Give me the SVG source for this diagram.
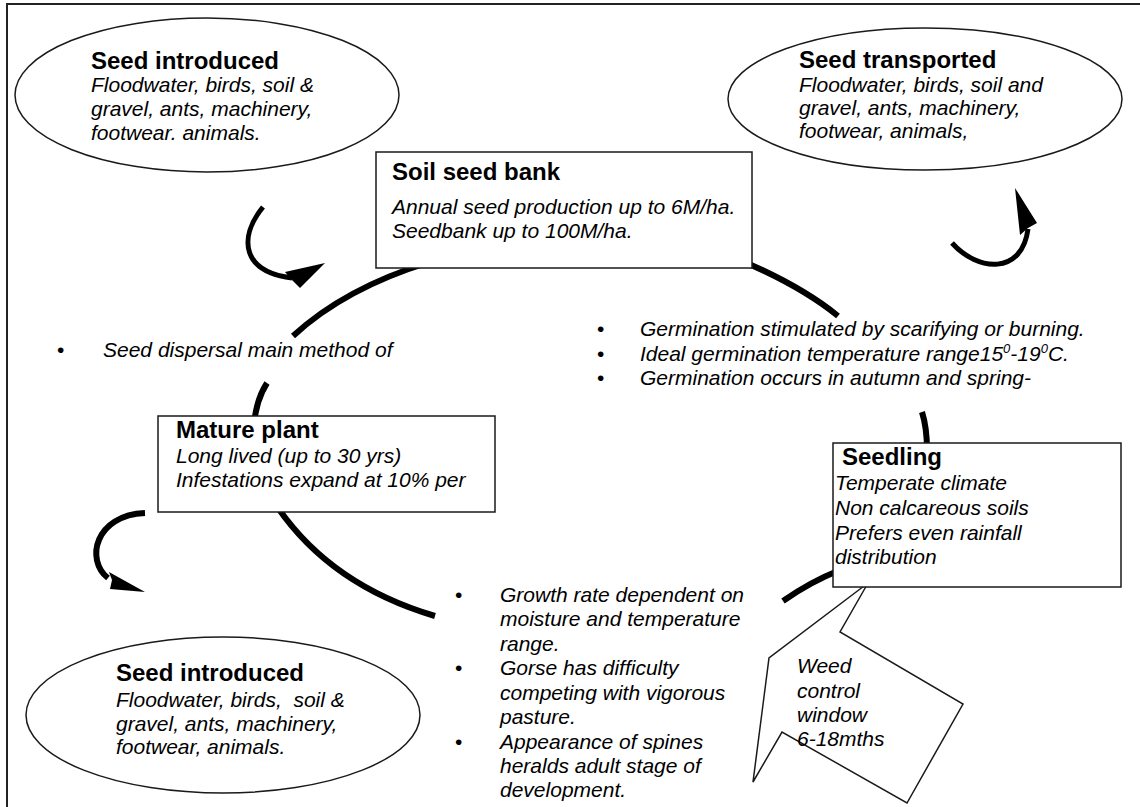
<svg xmlns="http://www.w3.org/2000/svg" width="1140" height="807" viewBox="0 0 1140 807">
<style>
.t{font-family:"Liberation Sans",Arial,sans-serif;fill:#000}
.b{font-weight:bold;font-size:24px}
.i{font-style:italic;font-size:21px}
.u{font-size:21px}
.shape{fill:#fff;stroke:#1a1a1a;stroke-width:1.5}
.cyc{fill:none;stroke:#000;stroke-width:6}
.arr{fill:none;stroke:#000;stroke-width:5}
.head{fill:#000;stroke:none}
.pre{white-space:pre}
</style>
<rect x="0" y="0" width="1140" height="807" fill="#fff"/>
<rect id="frame" x="7" y="4" width="1150" height="830" fill="none" stroke="#222" stroke-width="2"/>

<g id="connectors">
  <path class="cyc" d="M430,262 Q345,288 293,336"/>
  <path class="cyc" d="M267,383 Q256,400 254,425"/>
  <path class="cyc" d="M276,505 Q330,585 435,616"/>
  <path class="cyc" d="M735,258 Q800,285 838,316"/>
  <path class="cyc" d="M922,412 Q927,428 927,450"/>
  <path class="cyc" d="M840,570 Q810,582 783,601"/>
  <path class="arr" d="M263,207 C238,238 242,272 292,278"/>
  <polygon class="head" points="325,263 285,272 290,278 300,288"/>
  <path class="arr" d="M952,243 C978,272 1022,275 1028,229"/>
  <polygon class="head" points="1015,188 1037,223 1028,228 1020,235"/>
  <path class="arr" d="M145,513 C95,515 85,560 108,578" style="stroke-width:6"/>
  <polygon class="head" points="109,572 112,580 110,589 145,592"/>
</g>

<g id="seed-introduced-top">
  <ellipse class="shape" cx="207" cy="95" rx="192" ry="77"/>
  <text class="t b" x="91" y="69">Seed introduced</text>
  <text class="t i" x="91" y="92">Floodwater, birds, soil &amp;</text>
  <text class="t i" x="91" y="116">gravel, ants, machinery,</text>
  <text class="t i" x="91" y="140">footwear. animals.</text>
</g>

<g id="seed-transported">
  <ellipse class="shape" cx="925" cy="99" rx="197" ry="71"/>
  <text class="t b" x="799" y="68">Seed transported</text>
  <text class="t i" x="799" y="92">Floodwater, birds, soil and</text>
  <text class="t i" x="799" y="115">gravel, ants, machinery,</text>
  <text class="t i" x="799" y="138">footwear, animals,</text>
</g>

<g id="soil-seed-bank">
  <rect class="shape" x="376" y="152" width="376" height="116"/>
  <text class="t b" x="392" y="180">Soil seed bank</text>
  <text class="t i" x="392" y="214">Annual seed production up to 6M/ha.</text>
  <text class="t i" x="392" y="238">Seedbank up to 100M/ha.</text>
</g>

<g id="dispersal-note">
  <text class="t u" x="57" y="357">•</text>
  <text class="t i" x="103" y="357">Seed dispersal main method of</text>
</g>

<g id="germination-notes">
  <text class="t u" x="597" y="336">•</text>
  <text class="t u" x="597" y="361">•</text>
  <text class="t u" x="597" y="385">•</text>
  <text class="t i" x="640" y="336">Germination stimulated by scarifying or burning.</text>
  <text class="t i" x="640" y="361">Ideal germination temperature range15<tspan font-size="13" dy="-8">0</tspan><tspan dy="8">-19</tspan><tspan font-size="13" dy="-8">0</tspan><tspan dy="8">C.</tspan></text>
  <text class="t i" x="640" y="385">Germination occurs in autumn and spring-</text>
</g>

<g id="mature-plant">
  <rect class="shape" x="158" y="416" width="337" height="96"/>
  <text class="t b" x="176" y="438">Mature plant</text>
  <text class="t i" x="176" y="463">Long lived (up to 30 yrs)</text>
  <text class="t i" x="176" y="487">Infestations expand at 10% per</text>
</g>

<g id="weed-control-window">
  <polygon class="shape" points="868,583 840,632 963,704 907,803 782,732 753,782 769,658"/>
  <text class="t i" x="797" y="673">Weed</text>
  <text class="t i" x="797" y="698">control</text>
  <text class="t i" x="797" y="722">window</text>
  <text class="t i" x="797" y="746">6-18mths</text>
</g>

<g id="seedling">
  <rect class="shape" x="833" y="443" width="288" height="144"/>
  <text class="t b" x="842" y="465">Seedling</text>
  <text class="t i" x="835" y="490">Temperate climate</text>
  <text class="t i" x="835" y="515">Non calcareous soils</text>
  <text class="t i" x="835" y="540">Prefers even rainfall</text>
  <text class="t i" x="835" y="564">distribution</text>
</g>

<g id="growth-notes">
  <text class="t u" x="455" y="602">•</text>
  <text class="t u" x="455" y="675">•</text>
  <text class="t u" x="455" y="749">•</text>
  <text class="t i" x="500" y="602">Growth rate dependent on</text>
  <text class="t i" x="500" y="626">moisture and temperature</text>
  <text class="t i" x="500" y="651">range.</text>
  <text class="t i" x="500" y="675">Gorse has difficulty</text>
  <text class="t i" x="500" y="700">competing with vigorous</text>
  <text class="t i" x="500" y="724">pasture.</text>
  <text class="t i" x="500" y="749">Appearance of spines</text>
  <text class="t i" x="500" y="773">heralds adult stage of</text>
  <text class="t i" x="500" y="797">development.</text>
</g>

<g id="seed-introduced-bottom">
  <ellipse class="shape" cx="223" cy="715" rx="197" ry="78"/>
  <text class="t b" x="116" y="681">Seed introduced</text>
  <text class="t i pre" x="116" y="707">Floodwater, birds,  soil &amp;</text>
  <text class="t i" x="116" y="731">gravel, ants, machinery,</text>
  <text class="t i" x="116" y="754">footwear, animals.</text>
</g>
</svg>
